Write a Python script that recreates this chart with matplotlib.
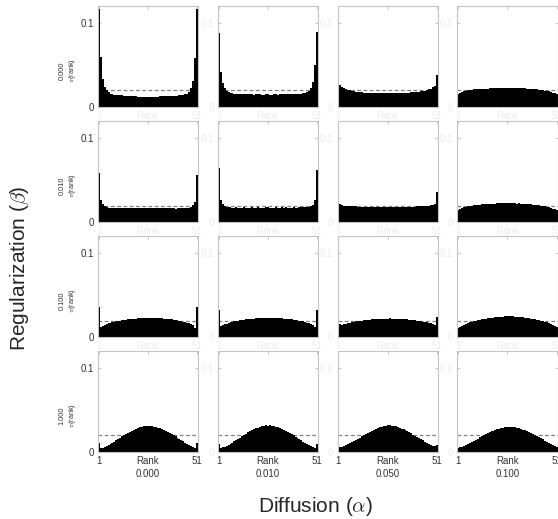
import matplotlib
matplotlib.use('Agg')
import matplotlib.pyplot as plt

plt.rcParams['font.family'] = ['Liberation Sans', 'DejaVu Sans']
plt.rcParams['mathtext.fontset'] = 'cm'

ranks = list(range(1, 52))
alpha_labels = ['0.000', '0.010', '0.050', '0.100']
beta_labels = ['0.000', '0.010', '0.100', '1.000']
uniform_level = 1 / 51

# row: beta = 0.000
p00 = [0.116, 0.059, 0.033, 0.024, 0.020, 0.0175, 0.016, 0.0152, 0.0148, 0.0146,
       0.0142, 0.014, 0.0137, 0.0135, 0.0134, 0.0131, 0.013, 0.0128, 0.0127, 0.0125,
       0.0124, 0.0122, 0.0121, 0.012, 0.0118, 0.0116, 0.0117, 0.0119, 0.012, 0.0123,
       0.0124, 0.0125, 0.0127, 0.0126, 0.0128, 0.0129, 0.013, 0.0131, 0.0132, 0.0134,
       0.0135, 0.0137, 0.014, 0.0144, 0.015, 0.016, 0.018, 0.022, 0.031, 0.058,
       0.116]
p01 = [0.088, 0.041, 0.029, 0.023, 0.019, 0.0175, 0.0168, 0.0162, 0.016, 0.0157,
       0.0158, 0.0155, 0.0153, 0.0154, 0.0152, 0.015, 0.0151, 0.015, 0.0148, 0.0152,
       0.015, 0.0149, 0.0147, 0.0148, 0.015, 0.0149, 0.0147, 0.0148, 0.015, 0.0149,
       0.0148, 0.015, 0.0151, 0.015, 0.0152, 0.0151, 0.0153, 0.0152, 0.0155, 0.0154,
       0.0156, 0.0158, 0.016, 0.0163, 0.0167, 0.0175, 0.019, 0.022, 0.030, 0.050,
       0.089]
p02 = [0.038, 0.0265, 0.024, 0.0225, 0.0215, 0.0205, 0.0198, 0.019, 0.0185, 0.0182,
       0.0178, 0.0176, 0.0173, 0.0172, 0.017, 0.0168, 0.0169, 0.0166, 0.0165, 0.0164,
       0.0166, 0.0163, 0.0162, 0.0164, 0.0163, 0.0162, 0.0164, 0.0163, 0.0165, 0.0164,
       0.0166, 0.0165, 0.0167, 0.0168, 0.017, 0.0169, 0.0172, 0.0174, 0.0176, 0.0178,
       0.018, 0.0183, 0.0186, 0.019, 0.0195, 0.02, 0.0208, 0.0218, 0.0232, 0.0255,
       0.0386]
p03 = [0.0155, 0.0168, 0.0178, 0.0186, 0.0192, 0.0197, 0.0201, 0.0204, 0.0208, 0.021,
       0.0212, 0.0215, 0.0213, 0.0217, 0.0219, 0.0218, 0.022, 0.0222, 0.0221, 0.0223,
       0.0225, 0.0224, 0.0226, 0.0227, 0.0225, 0.0227, 0.0228, 0.0226, 0.0227, 0.0225,
       0.0226, 0.0224, 0.0222, 0.0223, 0.022, 0.0219, 0.0217, 0.0215, 0.0213, 0.021,
       0.0208, 0.0205, 0.0202, 0.0198, 0.0195, 0.019, 0.0185, 0.018, 0.0172, 0.0164,
       0.0155]

# row: beta = 0.010
p10 = [0.058, 0.027, 0.022, 0.019, 0.0178, 0.0172, 0.017, 0.0168, 0.0167, 0.0169,
       0.0166, 0.0168, 0.0167, 0.0165, 0.0168, 0.0166, 0.0167, 0.0169, 0.0166, 0.0165,
       0.0167, 0.0168, 0.0166, 0.0165, 0.0167, 0.0166, 0.0164, 0.0166, 0.0167, 0.0168,
       0.0166, 0.0165, 0.0167, 0.0166, 0.0168, 0.0167, 0.0165, 0.0166, 0.0164, 0.0162,
       0.0165, 0.0167, 0.0166, 0.0168, 0.0167, 0.017, 0.0175, 0.0185, 0.0206, 0.0246,
       0.056]
p11 = [0.064, 0.027, 0.022, 0.0195, 0.0183, 0.0178, 0.0176, 0.0175, 0.0174, 0.0176,
       0.0173, 0.0175, 0.0174, 0.0176, 0.0175, 0.0173, 0.0175, 0.0177, 0.0174, 0.0175,
       0.0176, 0.0174, 0.0173, 0.0175, 0.0177, 0.0176, 0.0174, 0.0175, 0.0173, 0.0176,
       0.0175, 0.0174, 0.0176, 0.0175, 0.0177, 0.0174, 0.0173, 0.0175, 0.0176, 0.0174,
       0.0175, 0.0177, 0.0176, 0.0178, 0.0177, 0.018, 0.0185, 0.0195, 0.021, 0.027,
       0.062]
p12 = [0.0345, 0.0215, 0.0205, 0.0198, 0.0195, 0.0193, 0.0191, 0.019, 0.0188, 0.0189,
       0.0187, 0.0186, 0.0185, 0.0186, 0.0184, 0.0183, 0.0185, 0.0184, 0.0182, 0.0183,
       0.0181, 0.0182, 0.018, 0.0181, 0.0182, 0.018, 0.0181, 0.0183, 0.0182, 0.0181,
       0.0183, 0.0184, 0.0182, 0.0183, 0.0185, 0.0184, 0.0186, 0.0185, 0.0187, 0.0186,
       0.0188, 0.019, 0.0189, 0.0191, 0.0193, 0.0195, 0.0197, 0.02, 0.0205, 0.022,
       0.0355]
p13 = [0.0145, 0.0158, 0.017, 0.0178, 0.0185, 0.019, 0.0195, 0.0199, 0.0202, 0.0205,
       0.0208, 0.021, 0.0212, 0.0214, 0.0216, 0.0217, 0.0219, 0.022, 0.0222, 0.0223,
       0.0224, 0.0226, 0.0225, 0.0227, 0.0226, 0.0225, 0.0227, 0.0226, 0.0224, 0.0225,
       0.0223, 0.0224, 0.0222, 0.022, 0.0219, 0.0217, 0.0215, 0.0213, 0.0211, 0.0208,
       0.0205, 0.0202, 0.0198, 0.0195, 0.019, 0.0185, 0.0178, 0.017, 0.0162, 0.0155,
       0.0147]

# row: beta = 0.100
p20 = [0.0355, 0.0125, 0.0138, 0.0148, 0.0157, 0.0165, 0.0172, 0.0178, 0.0184, 0.0189,
       0.0194, 0.0198, 0.0202, 0.0206, 0.0209, 0.0212, 0.0215, 0.0218, 0.022, 0.0222,
       0.0224, 0.0226, 0.0225, 0.0228, 0.0229, 0.023, 0.0229, 0.0228, 0.023, 0.0228,
       0.0226, 0.0227, 0.0224, 0.0222, 0.022, 0.0218, 0.0215, 0.0212, 0.0208, 0.0205,
       0.0201, 0.0196, 0.0191, 0.0186, 0.018, 0.0173, 0.0165, 0.0155, 0.0142, 0.0115,
       0.0365]
p21 = [0.0325, 0.0135, 0.0145, 0.0155, 0.0163, 0.017, 0.0177, 0.0183, 0.0189, 0.0194,
       0.0198, 0.0202, 0.0206, 0.021, 0.0213, 0.0216, 0.0219, 0.0221, 0.0223, 0.0225,
       0.0227, 0.0226, 0.0229, 0.023, 0.0231, 0.0233, 0.0231, 0.023, 0.0232, 0.0229,
       0.0228, 0.0227, 0.0225, 0.0223, 0.0221, 0.0219, 0.0216, 0.0213, 0.021, 0.0206,
       0.0202, 0.0197, 0.0193, 0.0188, 0.0182, 0.0175, 0.0167, 0.0158, 0.0147, 0.0125,
       0.033]
p22 = [0.0242, 0.0155, 0.0148, 0.0155, 0.0162, 0.0168, 0.0174, 0.0179, 0.0184, 0.0188,
       0.0192, 0.0196, 0.0199, 0.0202, 0.0205, 0.0208, 0.021, 0.0212, 0.0214, 0.0216,
       0.0218, 0.0219, 0.022, 0.0222, 0.0221, 0.0223, 0.0224, 0.0222, 0.0221, 0.0223,
       0.022, 0.0219, 0.0217, 0.0216, 0.0214, 0.0212, 0.021, 0.0207, 0.0204, 0.0201,
       0.0198, 0.0194, 0.019, 0.0185, 0.0181, 0.0176, 0.017, 0.0164, 0.0157, 0.0152,
       0.0242]
p23 = [0.0115, 0.0128, 0.014, 0.015, 0.016, 0.0168, 0.0176, 0.0183, 0.019, 0.0196,
       0.0202, 0.0207, 0.0212, 0.0216, 0.022, 0.0224, 0.0228, 0.0231, 0.0234, 0.0237,
       0.0239, 0.0242, 0.0244, 0.0246, 0.0248, 0.025, 0.0252, 0.0249, 0.025, 0.0247,
       0.0245, 0.0242, 0.0239, 0.0237, 0.0234, 0.023, 0.0227, 0.0223, 0.0218, 0.0214,
       0.0209, 0.0203, 0.0197, 0.0191, 0.0184, 0.0176, 0.0168, 0.0158, 0.0148, 0.0136,
       0.0122]

# row: beta = 1.000
p30 = [0.0105, 0.0042, 0.0052, 0.0062, 0.0072, 0.0083, 0.0095, 0.0108, 0.0122, 0.0137,
       0.0152, 0.0168, 0.0185, 0.0201, 0.0216, 0.023, 0.0243, 0.0255, 0.0266, 0.0276,
       0.0284, 0.0292, 0.0301, 0.0303, 0.0305, 0.0312, 0.0309, 0.0306, 0.0302, 0.0296,
       0.0289, 0.0281, 0.0272, 0.0262, 0.0251, 0.0239, 0.0226, 0.0213, 0.0199, 0.0185,
       0.017, 0.0155, 0.014, 0.0125, 0.011, 0.0096, 0.0083, 0.007, 0.0058, 0.0046,
       0.0105]
p31 = [0.009, 0.0045, 0.0054, 0.0064, 0.0075, 0.0086, 0.0098, 0.0111, 0.0125, 0.014,
       0.0156, 0.0172, 0.0188, 0.0204, 0.0219, 0.0234, 0.0248, 0.026, 0.0271, 0.0281,
       0.029, 0.0298, 0.0305, 0.031, 0.0316, 0.0314, 0.0318, 0.0312, 0.0306, 0.03,
       0.0292, 0.0283, 0.0274, 0.0263, 0.0252, 0.024, 0.0227, 0.0213, 0.0199, 0.0184,
       0.0169, 0.0154, 0.0139, 0.0124, 0.011, 0.0097, 0.0084, 0.0072, 0.006, 0.0048,
       0.009]
p32 = [0.0083, 0.0058, 0.0064, 0.0072, 0.0081, 0.0091, 0.0102, 0.0114, 0.0127, 0.0141,
       0.0155, 0.017, 0.0185, 0.02, 0.0215, 0.0229, 0.0242, 0.0254, 0.0266, 0.0277,
       0.0286, 0.0294, 0.0301, 0.0307, 0.0312, 0.0315, 0.0319, 0.0314, 0.0309, 0.0303,
       0.0296, 0.0288, 0.0279, 0.0269, 0.0258, 0.0246, 0.0234, 0.0221, 0.0207, 0.0193,
       0.0179, 0.0165, 0.0151, 0.0137, 0.0124, 0.0111, 0.0099, 0.0087, 0.0076, 0.0066,
       0.0085]
p33 = [0.0048, 0.0056, 0.0065, 0.0075, 0.0086, 0.0097, 0.0109, 0.0121, 0.0134, 0.0147,
       0.016, 0.0173, 0.0186, 0.0199, 0.0211, 0.0223, 0.0234, 0.0245, 0.0255, 0.0264,
       0.0272, 0.0279, 0.0285, 0.029, 0.0294, 0.0297, 0.0299, 0.0298, 0.0296, 0.0292,
       0.0287, 0.0281, 0.0274, 0.0266, 0.0257, 0.0247, 0.0236, 0.0225, 0.0213, 0.0201,
       0.0188, 0.0175, 0.0162, 0.0149, 0.0136, 0.0123, 0.011, 0.0097, 0.0085, 0.0073,
       0.0062]

panels = [[p00, p01, p02, p03],
          [p10, p11, p12, p13],
          [p20, p21, p22, p23],
          [p30, p31, p32, p33]]

W, H = 558, 519
fig = plt.figure(figsize=(W / 100, H / 100), dpi=100)
lefts = [97.7, 217.7, 337.5, 457.0]
tops = [6.0, 121.3, 236.3, 351.0]
aw, ah = 100.5, 101.0

dark = '#333333'
faint = '#ececec'

for i, row in enumerate(panels):
    for j, vals in enumerate(row):
        ax = fig.add_axes([lefts[j] / W, 1 - (tops[i] + ah) / H, aw / W, ah / H])
        ax.bar(ranks, vals, width=1.0, color='black', linewidth=0, zorder=2)
        ax.axhline(uniform_level, color='#808080', ls=(0, (3, 2)), lw=0.9, zorder=1)
        ax.set_xlim(0.5, 51.5)
        ax.set_ylim(0, 0.12)
        ax.set_xticks([1, 26, 51])
        ax.set_xticklabels(['1', 'Rank', '51'])
        ax.set_yticks([0, 0.1])
        ax.set_yticklabels(['0', '0.1'])
        ax.tick_params(direction='in', top=True, right=True, length=2.5, width=0.6,
                       color='#bdbdbd', labelsize=7, pad=3)
        for s in ax.spines.values():
            s.set_color('#c4c4c4')
            s.set_linewidth(0.8)
        ax.tick_params(axis='x', labelcolor=dark if i == 3 else faint)
        ax.tick_params(axis='y', labelcolor=dark if j == 0 else faint)
        if i == 3:
            ax.set_xlabel(alpha_labels[j], fontsize=7, color=dark, labelpad=2)
        if j == 0:
            ax.set_ylabel(beta_labels[i] + '\n' + r'$\pi$(rank)', fontsize=5.3,
                          color=dark, linespacing=1.1)
            ax.yaxis.set_label_coords(-0.2, 0.36)

fig.text(315 / W, 1 - 506 / H, r'Diffusion ($\alpha$)', ha='center', va='center',
         fontsize=15, color='#262626')
fig.text(20 / W, 1 - 268 / H, r'Regularization ($\beta$)', rotation=90, ha='center',
         va='center', fontsize=15, color='#262626')

fig.savefig('out.png', dpi=100)
